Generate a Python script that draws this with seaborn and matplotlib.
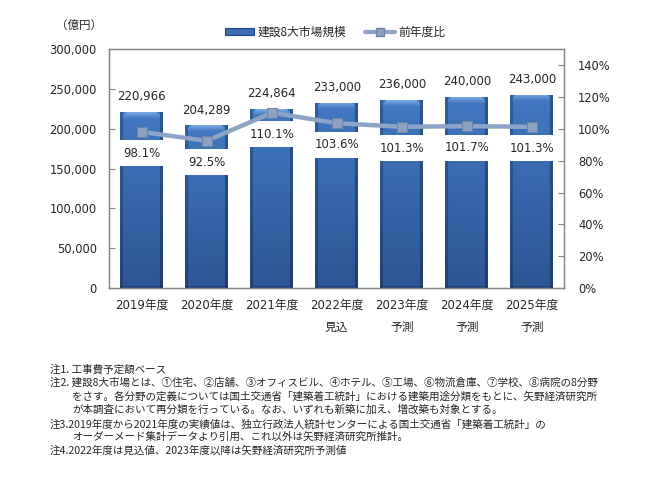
import numpy as np
import seaborn as sns
import matplotlib.pyplot as plt
from matplotlib.patches import Patch
from matplotlib.lines import Line2D
from matplotlib.colors import to_rgb

# data
years = ["2019年度", "2020年度", "2021年度", "2022年度\n見込",
         "2023年度\n予測", "2024年度\n予測", "2025年度\n予測"]
market = [220966, 204289, 224864, 233000, 236000, 240000, 243000]
yoy = [98.1, 92.5, 110.1, 103.6, 101.3, 101.7, 101.3]
left_ticks = [0, 50000, 100000, 150000, 200000, 250000, 300000]
right_ticks = [0, 20, 40, 60, 80, 100, 120, 140]
notes = [
    "注1. 工事費予定額ベース",
    "注2. 建設8大市場とは、①住宅、②店舗、③オフィスビル、④ホテル、⑤工場、⑥物流倉庫、⑦学校、⑧病院の8分野",
    "をさす。各分野の定義については国土交通省「建築着工統計」における建築用途分類をもとに、矢野経済研究所",
    "が本調査において再分類を行っている。なお、いずれも新築に加え、増改築も対象とする。",
    "注3.2019年度から2021年度の実績値は、独立行政法人統計センターによる国土交通省「建築着工統計」の",
    "オーダーメード集計データより引用、これ以外は矢野経済研究所推計。",
    "注4.2022年度は見込値、2023年度以降は矢野経済研究所予測値",
]
note_y = [369, 383, 396, 409, 424, 437, 451]
note_x = [50, 50, 72, 72, 50, 72, 50]

sns.set_style("white")
plt.rcParams["font.family"] = ["DejaVu Sans", "Noto Sans CJK JP"]
jp = ["Noto Sans CJK JP", "DejaVu Sans"]

W, H = 666, 499
fig = plt.figure(figsize=(W / 100, H / 100), dpi=100)
ax = fig.add_axes([109.3 / W, 1 - 288 / H, (564.3 - 109.3) / W, (288 - 49.3) / H])

spine_c = "#868686"
sns.barplot(x=years, y=market, ax=ax, color="#3A6DB5", width=0.66,
            saturation=1, edgecolor="none")
ax.set_xlim(-0.5, len(years) - 0.5)
ax.set_ylim(0, 300000)
ax.set_yticks(left_ticks)
ax.set_yticklabels([f"{v:,}" for v in left_ticks])
ax.set_xlabel("")
ax.set_ylabel("")
ax.set_xticks(np.arange(len(years)))
ax.set_xticklabels(years, linespacing=1.9)
ax.set_xticks(np.arange(len(years) - 1) + 0.5, minor=True)
ax.tick_params(axis="x", which="major", length=0, pad=8, labelsize=8.5)
ax.tick_params(axis="x", which="minor", direction="in", length=4, color=spine_c)
ax.tick_params(axis="y", direction="in", length=4, color=spine_c, pad=9,
               labelsize=8.3, left=True)
for s in ax.spines.values():
    s.set_visible(True)
    s.set_color(spine_c)
    s.set_linewidth(1)

# gradient / bevel fill for the bars
top_c = np.array(to_rgb("#4178C2"))
bot_c = np.array(to_rgb("#2C5694"))
hi_c = np.array(to_rgb("#78A8E4"))
for p in list(ax.patches):
    x0, y0 = p.get_x(), p.get_y()
    w, h = p.get_width(), p.get_height()
    (px0, py0), (px1, py1) = ax.transData.transform([(x0, y0), (x0 + w, y0 + h)])
    nr, nc = max(int(py1 - py0), 2), max(int(px1 - px0), 2)
    t = np.linspace(0, 1, nr)[:, None, None]
    img = top_c * (1 - t) + bot_c * t
    img = np.repeat(img, nc, axis=1)
    bev = 6
    for r in range(min(bev, nr)):
        a = 1 - r / bev
        img[r, bev - r:nc - bev + r] = img[r, bev - r:nc - bev + r] * (1 - a) + hi_c * a
    img[:, :3] *= 0.78
    img[:, -3:] *= 0.72
    img[-2:, :] *= 0.8
    im = ax.imshow(np.clip(img, 0, 1), extent=[x0, x0 + w, y0, y0 + h],
                   aspect="auto", zorder=p.get_zorder(), interpolation="bilinear")
    im.set_clip_path(p)
    p.set_facecolor("none")
ax.set_xlim(-0.5, len(years) - 0.5)
ax.set_ylim(0, 300000)

for i, v in enumerate(market):
    ax.annotate(f"{v:,}", (i, v), xytext=(0, 11), textcoords="offset points",
                ha="center", va="center", fontsize=8.5)

ax2 = ax.twinx()
line_c = "#8DA3C8"
sns.lineplot(x=np.arange(len(yoy)), y=yoy, ax=ax2, color=line_c, lw=3.2,
             marker="s", markersize=7, markerfacecolor="#8FA2C2",
             markeredgecolor="#6F83A6", markeredgewidth=0.8, zorder=5)
ax2.set_ylim(0, 150)
ax2.set_yticks(right_ticks)
ax2.set_yticklabels([f"{v}%" for v in right_ticks])
ax2.set_ylabel("")
ax2.tick_params(axis="y", direction="in", length=4, color=spine_c, pad=10,
                labelsize=8.3, right=True)
for s in ax2.spines.values():
    s.set_color(spine_c)
for i, v in enumerate(yoy):
    ax2.annotate(f"{v}%", (i, v), xytext=(0, -15.5), textcoords="offset points",
                 ha="center", va="center", fontsize=8.5, zorder=4,
                 bbox=dict(boxstyle="square,pad=0.55", fc="white", ec="none"))

handles = [Patch(facecolor="#3A6DB5", edgecolor="#24477F", lw=0.8),
           Line2D([0], [0], color=line_c, lw=3, marker="s", markersize=6,
                  markerfacecolor="#8FA2C2", markeredgecolor="#6F83A6")]
fig.legend(handles, ["建設8大市場規模", "前年度比"], loc="center",
           bbox_to_anchor=(335 / W, 1 - 32 / H), ncol=2, frameon=False,
           handlelength=2.5, handleheight=0.55, columnspacing=1.6,
           handletextpad=0.3, prop={"family": jp, "size": 8.5})

fig.text(56 / W, 1 - 25 / H, "（億円）", ha="left", va="center",
         family=jp, fontsize=8.3)

for txt, x, y in zip(notes, note_x, note_y):
    fig.text(x / W, 1 - y / H, txt, ha="left", va="center", family=jp, fontsize=7.6)

fig.savefig("out.png", dpi=100)
